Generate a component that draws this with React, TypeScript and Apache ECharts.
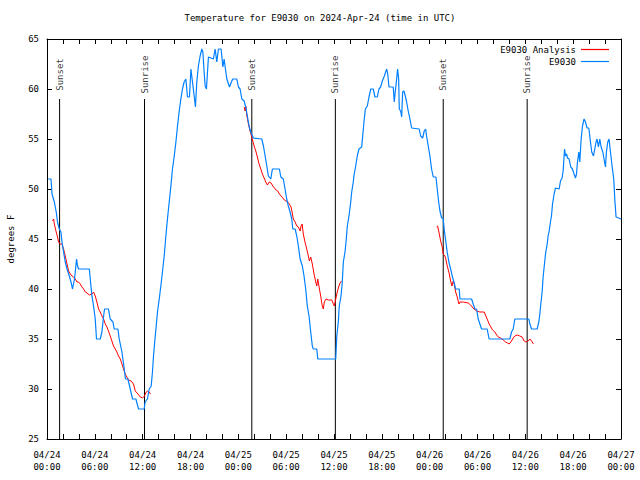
import React, { useEffect, useRef } from 'react';
import * as echarts from 'echarts';

const titleText = 'Temperature for E9030 on 2024-Apr-24 (time in UTC)';
const yAxisName = 'degrees F';
const legendNames = ['E9030 Analysis', 'E9030'];
const xTickLabels = [
  '04/24\n00:00', '04/24\n06:00', '04/24\n12:00', '04/24\n18:00',
  '04/25\n00:00', '04/25\n06:00', '04/25\n12:00', '04/25\n18:00',
  '04/26\n00:00', '04/26\n06:00', '04/26\n12:00', '04/26\n18:00',
  '04/27\n00:00',
];
const sunNames = ['Sunset', 'Sunrise', 'Sunset', 'Sunrise', 'Sunset', 'Sunrise'];
const sunHours = [1.58, 12.23, 25.69, 36.17, 49.7, 60.23];

// hours since 04/24 00:00 UTC, degrees F
const e9030Obs = [
  [0.15,51],[0.50,51],[0.63,49.5],[0.92,48.7],[1.16,47.7],[1.32,46.7],[1.54,46],[1.75,45.7],[1.88,44.7],[2.08,43.7],[2.29,42.7],[2.51,42],[2.80,41.3],[3.01,40.7],[3.20,40],[3.45,41],[3.71,43],[3.83,42.3],[3.96,42],[5.31,42],[5.51,40.3],[5.64,39.3],[5.84,38.3],[6.05,37],[6.21,35],[6.68,35],[6.89,35.7],[7.10,37.3],[7.22,38],[7.71,38],[7.93,37],[8.27,36.7],[8.43,36],[8.90,36],[9.06,35],[9.40,33.7],[9.64,32.3],[9.84,31],[10.15,31],[10.44,30],[10.73,29],[11.15,29],[11.48,28],[12.19,28],[12.31,28.7],[12.60,29],[12.82,30],[13.07,30.3],[13.23,31.7],[13.36,33.3],[13.54,35],[13.70,36.3],[13.86,37.7],[14.08,39],[14.28,40.3],[14.48,41.7],[14.70,43.3],[14.91,45.3],[15.11,47],[15.33,48.7],[15.54,50.3],[15.74,52],[15.96,53.3],[16.17,54.7],[16.37,56.3],[16.57,57.7],[16.79,59],[16.99,60],[17.20,60.7],[17.42,61],[17.62,59.2],[17.87,59.2],[18.05,62],[18.25,60.7],[18.46,59.3],[18.62,58.2],[18.79,60.7],[18.99,62.3],[19.21,63.3],[19.42,64],[19.55,63.7],[19.71,61.7],[19.84,60.3],[20.00,60],[20.25,63.2],[20.87,63],[21.09,64],[21.30,62.7],[21.50,64],[21.84,64],[22.06,62.2],[22.22,63],[22.38,62],[22.56,61],[22.89,60.2],[23.13,60.7],[23.30,61],[23.81,61],[24.01,60.2],[24.22,60],[24.44,59],[24.73,58.8],[24.98,58],[25.19,57],[25.38,56.2],[25.56,55.7],[25.89,55.1],[26.94,55],[27.15,54.3],[27.36,53.3],[27.57,52.3],[27.77,51.3],[28.07,51],[28.27,52],[29.15,52],[29.33,51.2],[29.64,51],[29.86,50],[30.07,49],[30.27,48.3],[30.49,47.7],[30.70,47],[30.83,46],[31.12,46],[31.33,45.3],[31.53,44.3],[31.75,43],[32.03,42.3],[32.24,41.3],[32.45,40],[32.65,38.3],[32.87,37.3],[33.08,35.7],[33.28,34.3],[33.41,34],[33.84,34],[33.96,33],[36.22,33],[36.35,35.3],[36.54,36.7],[36.66,38.3],[36.88,39.3],[37.04,40.7],[37.17,42.7],[37.38,43.7],[37.51,44.7],[37.67,46.3],[37.88,47.3],[38.10,48.7],[38.22,49.7],[38.42,50.7],[38.50,51.3],[38.72,52.3],[38.92,53.3],[39.13,54],[39.47,54.2],[39.60,55.3],[39.76,56.7],[39.93,58],[40.18,58.3],[40.39,59.2],[40.61,60],[40.92,60],[41.14,59.2],[41.43,59.2],[41.64,60],[41.85,60.2],[42.06,60.8],[42.27,61.2],[42.48,61.7],[42.61,62],[42.74,61.5],[42.90,60.2],[43.43,60.2],[43.56,58.7],[43.68,59.7],[43.86,61],[43.98,62],[44.11,61],[44.19,58],[44.36,57.8],[44.49,57.2],[44.61,59.7],[44.78,59.8],[44.94,59.3],[45.11,58.7],[45.31,57.8],[45.52,57],[45.74,56.1],[46.69,56],[46.87,55.3],[47.12,55.1],[47.32,55.8],[47.50,56],[47.61,55.3],[47.82,54.3],[48.03,53.3],[48.24,52],[48.45,51.2],[48.79,51.2],[48.95,50],[49.13,48.7],[49.29,47.8],[49.50,47.1],[49.69,47.1],[49.82,46],[50.03,44.7],[50.20,43.7],[50.41,42.7],[50.63,42],[50.83,41.3],[51.04,40.7],[51.26,40],[51.71,40],[51.80,39],[53.26,39],[53.46,38.5],[53.68,38],[53.89,38],[54.09,37],[54.30,36.5],[54.51,36],[55.21,36],[55.46,35],[58.06,35],[58.27,35.7],[58.48,36],[58.68,37],[60.44,37],[60.57,36.5],[60.78,36],[61.48,36],[61.69,36.7],[61.82,37.5],[61.94,38.5],[62.11,39.7],[62.23,41.2],[62.36,42.2],[62.53,43.5],[62.74,44.5],[62.86,45.3],[62.99,45.8],[63.15,46.7],[63.28,47.3],[63.41,48.5],[63.61,49.5],[63.78,50.1],[64.24,50],[64.41,50.8],[64.61,51.1],[64.74,51.8],[64.92,54],[65.04,53.3],[65.17,53.5],[65.29,53.1],[65.49,53],[65.70,52.2],[65.91,52],[66.11,51.5],[66.29,51.1],[66.42,51.5],[66.54,52.7],[66.71,53.7],[66.83,52.7],[67.00,55],[67.17,56.3],[67.37,57],[67.54,56.7],[67.74,56.1],[67.96,56.1],[68.17,54.7],[68.33,53.7],[68.55,53.3],[68.71,54],[68.87,54.7],[69.00,55],[69.17,54.2],[69.34,55],[69.51,54.2],[69.72,53.7],[69.87,53],[70.05,52.2],[70.17,53.7],[70.34,54.7],[70.50,55],[70.68,53.7],[70.88,52.3],[71.09,51],[71.22,49],[71.38,47.2],[72,47],
];

const analysisNight1 = [
  [0.71,46.8],[0.83,47],[0.92,46.5],[1.12,45.8],[1.32,45.2],[1.45,44.7],[1.66,44.5],[1.88,44.5],[2.08,44],[2.29,43.3],[2.51,42.5],[2.71,41.8],[2.92,41.5],[3.14,41.3],[3.33,41.2],[3.54,41],[3.76,40.7],[3.96,40.7],[4.17,40.5],[4.39,40.2],[4.59,40],[4.80,39.7],[5.02,39.6],[5.31,39.4],[5.64,39.5],[5.84,39.7],[6.05,39.3],[6.26,38.7],[6.47,38],[6.68,37.7],[6.89,37.3],[7.10,37],[7.31,36.5],[7.52,36.2],[7.71,35.8],[7.93,35.3],[8.14,34.8],[8.34,34.3],[8.56,34],[8.77,33.7],[8.97,33.3],[9.19,33],[9.40,32.5],[9.60,32],[9.81,31.5],[10.02,31.2],[10.22,30.9],[10.56,30.8],[10.85,30.5],[11.07,29.8],[11.41,29.5],[11.70,29.2],[11.98,29.1],[12.23,29.3],[12.44,29.7],[12.65,29.8],[12.82,29.7],[12.98,29.5],
];
const analysisNight2 = [
  [24.73,58.2],[24.85,57.8],[24.94,58.3],[25.07,57.3],[25.27,56.5],[25.47,55.8],[25.69,55.2],[25.81,54.8],[25.98,54.3],[26.19,53.8],[26.39,53.2],[26.60,52.5],[26.82,52],[27.02,51.5],[27.23,51.1],[27.44,50.7],[27.64,50.4],[27.89,50.7],[28.11,50.6],[28.32,50.3],[28.52,50.1],[28.73,49.9],[28.95,49.8],[29.15,49.5],[29.36,49.3],[29.58,49.1],[29.77,48.9],[29.98,48.8],[30.20,48.7],[30.40,48.5],[30.61,48.2],[30.74,47.7],[30.90,47],[31.12,46.7],[31.33,46.3],[31.53,46.2],[31.75,45.8],[31.87,46.3],[32.00,46.5],[32.15,45.5],[32.36,44.7],[32.58,44],[32.78,43.3],[32.91,42.8],[33.08,43.2],[33.28,42.5],[33.50,41.5],[33.71,40.7],[33.84,40.3],[33.96,41],[34.13,40.2],[34.33,39.3],[34.53,38.3],[34.66,38],[34.79,38.7],[35.00,39],[35.29,38.9],[35.72,38.9],[35.92,38.5],[36.04,38.3],[36.22,39],[36.35,39.5],[36.54,40.1],[36.75,40.6],[36.96,40.8],
];
const analysisNight3 = [
  [48.87,46.2],[49.00,46.3],[49.16,45.7],[49.38,44.8],[49.58,44.2],[49.69,43.5],[49.91,43.3],[50.03,43],[50.20,42.3],[50.41,41.7],[50.63,40.8],[50.79,40.3],[50.95,40.8],[51.08,40.5],[51.26,39.7],[51.46,39.2],[51.67,38.5],[51.80,38.7],[52.20,38.7],[52.83,38.6],[53.13,38.4],[53.55,38],[53.89,37.8],[54.30,37.7],[54.84,37.7],[55.05,37.3],[55.26,36.9],[55.46,36.5],[55.68,36.2],[55.89,35.9],[56.18,35.7],[56.40,35.4],[56.60,35.2],[56.89,35.1],[57.22,34.9],[57.52,34.7],[57.77,34.6],[57.97,34.5],[58.19,34.7],[58.48,35.1],[58.68,35.3],[58.97,35.4],[59.31,35.3],[59.60,35.2],[59.85,34.8],[60.07,34.7],[60.35,34.8],[60.57,35],[60.78,34.8],[61.02,34.5],
];

const FONT = '"DejaVu Sans Mono", "Liberation Mono", monospace';
const RED = '#ff0000';
const BLUE = '#0080ff';

export default function App() {
  const ref = useRef<HTMLDivElement>(null);
  useEffect(() => {
    if (!ref.current) return;
    const chart = echarts.init(ref.current, undefined, { renderer: 'svg' });
    const txt = { fontFamily: FONT, fontSize: 9, color: '#000' };
    const axisLineStyle = { show: true, onZero: false, lineStyle: { color: '#000', width: 1 } };
    const tickStyle = { show: true, inside: true, length: 5, lineStyle: { color: '#000', width: 1 } };

    const sunLineSeries = sunHours.map((h, i) => ({
      type: 'line',
      name: 'sunline' + i,
      data: [[h, 25], [h, 59]],
      symbol: 'none',
      silent: true,
      z: 1,
      lineStyle: { color: '#000', width: 1 },
      color: '#000',
    }));

    const analysisSeries = [analysisNight1, analysisNight2, analysisNight3].map((d) => ({
      type: 'line',
      name: legendNames[0],
      data: d,
      symbol: 'none',
      color: RED,
      itemStyle: { color: RED },
      lineStyle: { color: RED, width: 1 },
      z: 2,
    }));

    const legendBase = {
      right: 31, orient: 'vertical', align: 'right',
      padding: 0, icon: 'rect', itemWidth: 28, itemHeight: 1.2, itemGap: 0,
      selectedMode: false, textStyle: txt,
    };

    const option: any = {
      animation: false,
      backgroundColor: '#ffffff',
      textStyle: txt,
      title: {
        text: titleText,
        left: 'center',
        top: 13,
        padding: 0,
        textStyle: { ...txt, fontWeight: 'normal' },
      },
      legend: [
        { ...legendBase, top: 45, data: [{ name: legendNames[0], itemStyle: { color: RED } }] },
        { ...legendBase, top: 57, data: [{ name: legendNames[1], itemStyle: { color: BLUE } }] },
      ],
      grid: { left: 47, right: 19, top: 39, bottom: 41, containLabel: false, outerBoundsMode: 'none' },
      xAxis: [
        {
          type: 'value', min: 0, max: 72, interval: 2, position: 'bottom',
          axisLine: axisLineStyle, axisTick: tickStyle, splitLine: { show: false },
          axisLabel: {
            ...txt, margin: 10, lineHeight: 12, showMinLabel: true, showMaxLabel: true,
            formatter: (v: number) => {
              const r = Math.round(v);
              return r % 6 === 0 ? xTickLabels[r / 6] : '';
            },
          },
        },
        {
          type: 'value', min: 0, max: 72, interval: 2, position: 'top',
          axisLine: axisLineStyle, axisTick: tickStyle, splitLine: { show: false },
          axisLabel: { show: false },
        },
      ],
      yAxis: [
        {
          type: 'value', min: 25, max: 65, interval: 5, position: 'left',
          name: yAxisName, nameLocation: 'middle', nameGap: 32, nameRotate: 90,
          nameTextStyle: txt,
          axisLine: axisLineStyle, axisTick: tickStyle, splitLine: { show: false },
          axisLabel: { ...txt, margin: 8, showMinLabel: true, showMaxLabel: true },
        },
        {
          type: 'value', min: 25, max: 65, interval: 5, position: 'right',
          axisLine: axisLineStyle, axisTick: tickStyle, splitLine: { show: false },
          axisLabel: { show: false },
        },
      ],
      series: [
        ...sunLineSeries,
        {
          type: 'scatter',
          name: 'sunlabels',
          symbolSize: 0,
          silent: true,
          z: 3,
          data: sunHours.map((h, i) => ({ value: [h, 61.45], name: sunNames[i] })),
          label: {
            show: true, formatter: '{b}', rotate: 90, position: 'inside',
            ...txt,
          },
        },
        ...analysisSeries,
        {
          type: 'line',
          name: legendNames[1],
          data: e9030Obs,
          symbol: 'none',
          color: BLUE,
          itemStyle: { color: BLUE },
          lineStyle: { color: BLUE, width: 1.2 },
          z: 3,
        },
      ],
    };
    chart.setOption(option);
    return () => chart.dispose();
  }, []);
  return (
    <div
      ref={ref}
      style={{ position: 'fixed', left: 0, top: 0, width: 640, height: 480, background: '#fff' }}
    />
  );
}
